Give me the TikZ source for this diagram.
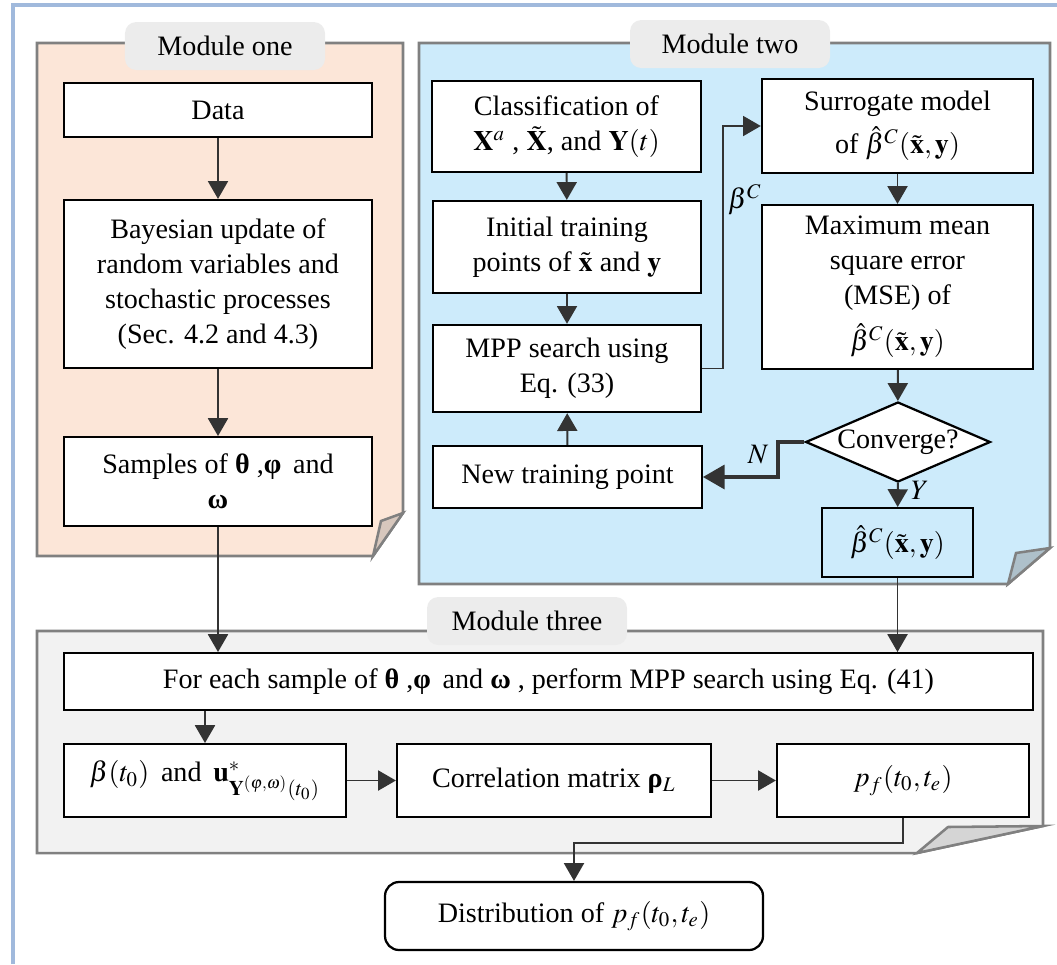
\documentclass[tikz,border=0pt]{standalone}
\usepackage{amsmath, amssymb}
\usepackage{mathptmx}
\usepackage[no-math]{fontspec}
\setmainfont{Liberation Serif}
\tikzset{node distance=2cm, auto}
\usetikzlibrary{arrows}
\usetikzlibrary{positioning, shapes.geometric}
\definecolor{peach}{RGB}{252,230,216}
\definecolor{skyfill}{RGB}{205,235,251}
\definecolor{greyfill}{RGB}{242,242,242}
\definecolor{tabfill}{RGB}{236,236,236}
\definecolor{framebl}{RGB}{160,185,220}
\newcommand{\betahat}{{\hat{\beta}}^{C}(\tilde{\mathbf{x}}, \mathbf{y})}

\begin{document}
\begin{tikzpicture}[x=0.125mm, y=-0.125mm, font=\fontsize{10}{12.4}\selectfont]
\tikzset{
  blk/.style={draw=black, fill=white, line width=0.8pt, align=center, inner sep=0pt},
  decision/.style={diamond, draw=black, fill=white, line width=0.8pt, inner sep=0pt,
    minimum width=23.1mm, minimum height=10mm},
  tab/.style={fill=tabfill, rounded corners=4pt, minimum width=25mm, minimum height=6mm},
  panel/.style={draw=gray, line width=0.9pt},
  flow/.style={draw=black!80, line width=0.7pt, ->, >=triangle 60}
}
\useasboundingbox (0,0) rectangle (1057,964);
\draw[framebl, line width=1.1pt] (13,964) -- (13,5) -- (1057,5);

\filldraw[panel, fill=peach] (37,43) -- (403,43) -- (403,513) -- (373,556) -- (37,556) -- cycle;
\filldraw[panel, fill=peach!70!gray] (373,556) -- (381,521) -- (403,513) -- cycle;
\filldraw[panel, fill=skyfill] (419,43) -- (1050,43) -- (1050,548) -- (1008,584) -- (419,584) -- cycle;
\filldraw[panel, fill=skyfill!60!gray] (1008,584) -- (1016,553) -- (1050,548) -- cycle;
\filldraw[panel, fill=greyfill] (37,631) -- (1043,631) -- (1043,826) -- (917,853) -- (37,853) -- cycle;
\filldraw[panel, fill=greyfill!75!gray] (917,853) -- (948,827) -- (1043,826) -- cycle;

\node[tab] (tabone) at (225,46) {Module one};
\node[tab] (tabtwo) at (730,44) {Module two};
\node[tab] (tabthree) at (527,621) {Module three};

\node[blk, minimum width=38.5mm, minimum height=6.75mm] (data) at (218,110) {Data};
\node[blk, minimum width=38.5mm, minimum height=21mm] (bayes) at (218,284)
  {Bayesian update of\\random variables and\\stochastic processes\\(Sec. 4.2 and 4.3)};
\node[blk, minimum width=38.5mm, minimum height=11.1mm] (samples) at (218,481.5)
  {Samples of \textbf{θ} ,\textbf{φ}\, and\\\textbf{ω}};

\node[blk, minimum width=33.6mm, minimum height=11.4mm] (classif) at (566.5,126.5)
  {Classification of\\$\mathbf{X}^a$ , $\tilde{\mathbf{X}}$, and $\mathbf{Y}(t)$};
\node[blk, minimum width=33.5mm, minimum height=11.5mm] (initial) at (567,247)
  {Initial training\\points of $\tilde{\mathbf{x}}$ and $\mathbf{y}$};
\node[blk, minimum width=33.5mm, minimum height=10.9mm] (mpp) at (567,368.5)
  {MPP search using\\Eq. (33)};
\node[blk, minimum width=33.6mm, minimum height=7.75mm] (newpt) at (567.5,477)
  {New training point};
\node[blk, minimum width=33.9mm, minimum height=11.75mm] (surr) at (897.5,126)
  {Surrogate model\\[3pt]of $\betahat$};
\node[blk, minimum width=33.9mm, minimum height=20.5mm] (mse) at (897.5,287)
  {Maximum mean\\square error\\(MSE) of\\[4pt]$\betahat$};
\node[decision, label=center:{Converge?}] (conv) at (898,442) {};
\node[blk, fill=skyfill, minimum width=18.9mm, minimum height=8.6mm] (betafin) at (897.5,542.5)
  {$\betahat$};

\node[blk, minimum width=121.1mm, minimum height=7.1mm] (foreach) at (548.5,681.5)
  {For each sample of \textbf{θ} ,\textbf{φ}\, and \textbf{ω} , perform MPP search using Eq. (41)};
\node[blk, minimum width=35.25mm, minimum height=9.1mm] (betat0) at (205,780.5)
  {$\beta(t_0)$\, and\, $\mathbf{u}^{*}_{\mathbf{Y}^{(\boldsymbol{\varphi},\boldsymbol{\omega})}(t_0)}$};
\node[blk, minimum width=39.25mm, minimum height=9.1mm] (corr) at (554,780.5)
  {Correlation matrix \textbf{ρ}$_L$};
\node[blk, minimum width=31.5mm, minimum height=9.1mm] (pf) at (903,780.5)
  {$p_f(t_0, t_e)$};
\node[blk, rounded corners=5pt, minimum width=47.25mm, minimum height=8.5mm] (dist) at (574,916)
  {Distribution of $p_f(t_0, t_e)$};

\draw[flow] (data) -- (bayes);
\draw[flow] (bayes) -- (samples);
\draw[flow] (samples) -- (samples |- foreach.north);
\draw[flow] (classif) -- (initial);
\draw[flow] (initial) -- (mpp);
\draw[flow] (newpt) -- (mpp);
\coordinate (turn) at (723,0);
\draw[flow] (mpp.east) -| (turn |- surr) -- (surr.west);
\node (betaC) at (745,200) {$\beta^C$};
\draw[flow] (surr) -- (mse);
\draw[flow] (mse) -- (conv);
\coordinate (nturn) at (778,0);
\draw[flow, line width=1.1pt] (conv.west) -| (nturn |- newpt) -- (newpt.east);
\node (nlbl) at (758,455) {$N$};
\draw[flow] (conv) -- (betafin);
\node (ylbl) at (920,490) {$Y$};
\draw[flow] (betafin) -- (betafin |- foreach.north);
\draw[flow] (foreach.south -| betat0) -- (betat0);
\draw[flow] (betat0) -- (corr);
\draw[flow] (corr) -- (pf);
\draw[flow] (pf.south) -- ++(0,25) -| (dist.north);
\end{tikzpicture}
\end{document}
